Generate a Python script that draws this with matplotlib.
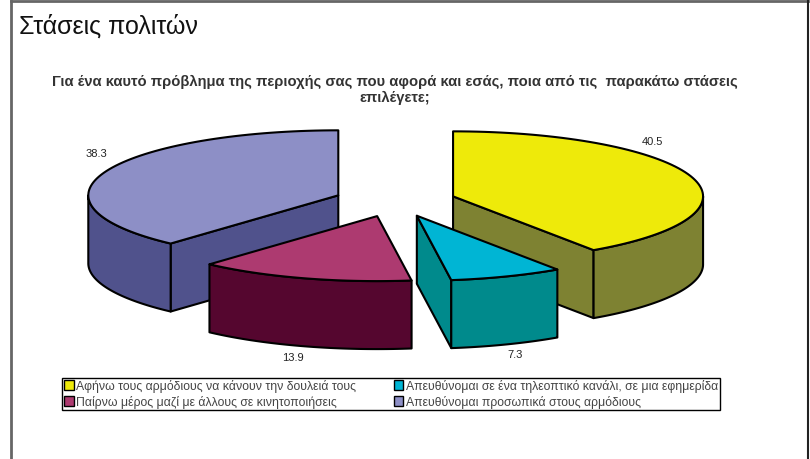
import numpy as np
import matplotlib
matplotlib.use("Agg")
import matplotlib.pyplot as plt
from matplotlib.patches import Polygon, Patch

plt.rcParams['font.family'] = ['Liberation Sans', 'DejaVu Sans']

# --- data ---
categories = [
    "Αφήνω τους αρμόδιους να κάνουν την δουλειά τους",
    "Απευθύνομαι σε ένα τηλεοπτικό κανάλι, σε μια εφημερίδα",
    "Παίρνω μέρος μαζί με άλλους σε κινητοποιήσεις",
    "Απευθύνομαι προσωπικά στους αρμόδιους",
]
values = [40.5, 7.3, 13.9, 38.3]
value_labels = ["40.5", "7.3", "13.9", "38.3"]
top_colors = ["#EEEA0A", "#00B5D4", "#AD3A70", "#8D8FC6"]
side_colors = ["#7E8232", "#008A8C", "#55062F", "#50528C"]
title = "Στάσεις πολιτών"
subtitle = "Για ένα καυτό πρόβλημα της περιοχής σας που αφορά και εσάς, ποια από τις  παρακάτω στάσεις\nεπιλέγετε;"

# --- layout (pixels) ---
W, H = 810, 460
CX, CY, RX, RY, DEPTH, EXPLODE = 395, 202, 250, 65, 68, 0.243
label_pos = [(652, 142), (515, 355), (293, 358), (96, 154)]

fig = plt.figure(figsize=(W / 100, H / 100), dpi=100)
ax = fig.add_axes([0, 0, 1, 1])
ax.set_xlim(0, W)
ax.set_ylim(H, 0)
ax.axis("off")

fracs = np.array(values) / sum(values) * 360
ends = np.cumsum(fracs)
starts = ends - fracs


def rim(cx, cy, a0, a1, n=80):
    t = np.radians(np.linspace(a0, a1, n))
    return np.column_stack([cx + RX * np.sin(t), cy - RY * np.cos(t)])


def draw_slice(i):
    a0, a1 = starts[i], ends[i]
    mid = np.radians((a0 + a1) / 2)
    cx = CX + EXPLODE * RX * np.sin(mid)
    cy = CY - EXPLODE * RY * np.cos(mid)
    apex = np.array([cx, cy])
    down = np.array([0, DEPTH])
    kw = dict(edgecolor="black", linewidth=1.5, joinstyle="round")
    # cut walls that face the viewer
    if np.sin(np.radians(a0)) < -1e-6:
        p = rim(cx, cy, a0, a0, 1)[0]
        ax.add_patch(Polygon([apex, p, p + down, apex + down], facecolor=side_colors[i], **kw))
    if np.sin(np.radians(a1)) > 1e-6:
        p = rim(cx, cy, a1, a1, 1)[0]
        ax.add_patch(Polygon([apex, p, p + down, apex + down], facecolor=side_colors[i], **kw))
    # front rim wall
    lo, hi = max(a0, 90), min(a1, 270)
    if hi > lo:
        r = rim(cx, cy, lo, hi)
        ax.add_patch(Polygon(np.vstack([r, (r + down)[::-1]]), facecolor=side_colors[i], **kw))
    # top face
    ax.add_patch(Polygon(np.vstack([apex, rim(cx, cy, a0, a1)]), facecolor=top_colors[i], **kw))


for i in [3, 0, 2, 1]:
    draw_slice(i)

for (x, y), s in zip(label_pos, value_labels):
    ax.text(x, y, s, fontsize=8, ha="center", va="center", color="#222222")

ax.text(19, 26, title, fontsize=18, ha="left", va="center", color="#111111")
ax.text(395, 90, subtitle, fontsize=10.6, fontweight="bold", ha="center", va="center",
        color="#333333", linespacing=1.1)

# page frame
ax.plot([11, 11], [460, 2], color="#666666", lw=2, clip_on=False)
ax.plot([11, 808], [2, 2], color="#666666", lw=2, clip_on=False)
ax.plot([808, 808], [2, 460], color="#222222", lw=1.5, clip_on=False)

handles = [Patch(facecolor=top_colors[i], edgecolor="black", linewidth=1) for i in [0, 2, 1, 3]]
labels = [categories[i] for i in [0, 2, 1, 3]]
leg = ax.legend(handles, labels, ncol=2, loc="upper left",
                bbox_to_anchor=(62 / W, 1 - 378.5 / H), bbox_transform=ax.transAxes,
                fontsize=8.8, frameon=True, fancybox=False, edgecolor="black", framealpha=1,
                borderpad=0.15, borderaxespad=0, handlelength=0.8, handleheight=0.9,
                handletextpad=0.2, labelspacing=0.25, columnspacing=3.08, labelcolor="#444444")
leg.get_frame().set_linewidth(1)

fig.savefig("out.png", dpi=100)
